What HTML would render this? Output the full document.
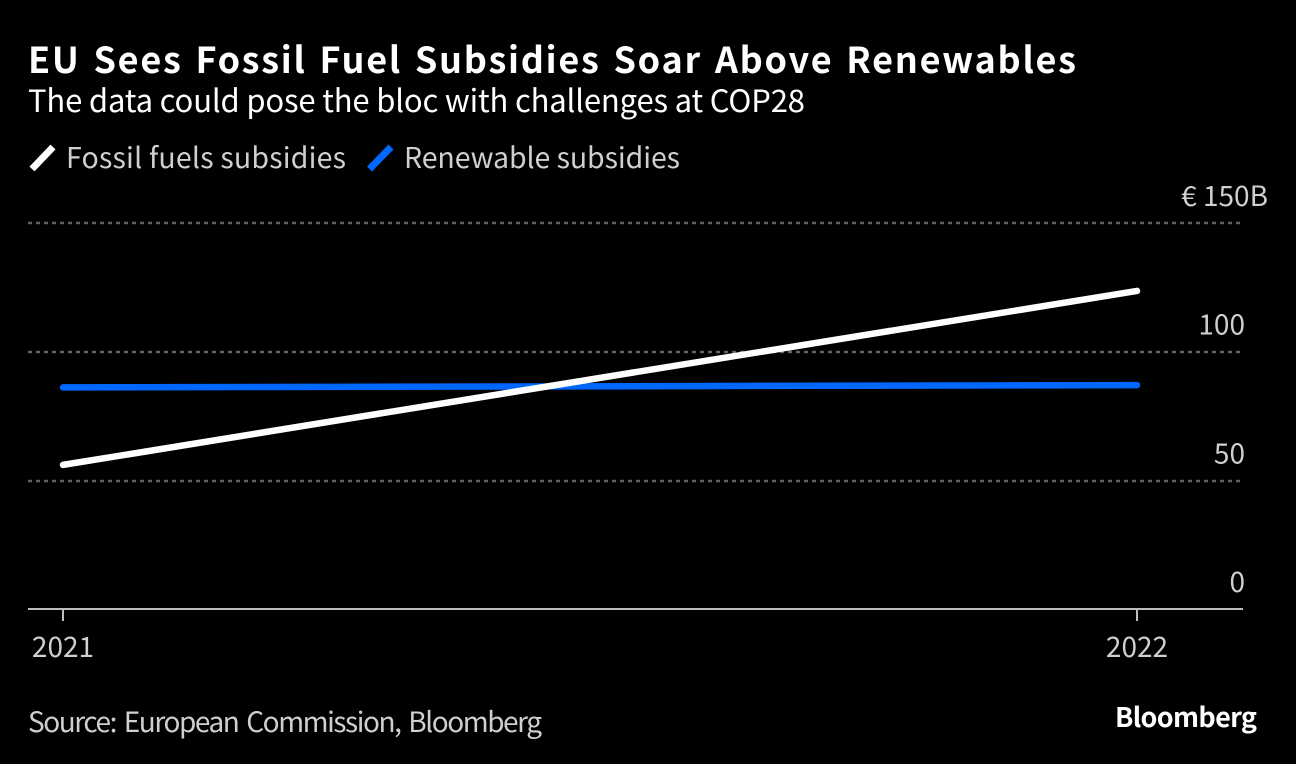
<!DOCTYPE html>
<html>
<head>
<meta charset="utf-8">
<style>
html,body{margin:0;padding:0;background:#000;width:1296px;height:764px;overflow:hidden}
svg{display:block}
text{font-family:"Noto Sans CJK JP",sans-serif}
</style>
</head>
<body>
<svg id="chart" width="1296" height="764" viewBox="0 0 1296 764" xmlns="http://www.w3.org/2000/svg">
  <rect width="1296" height="764" fill="#000"/>
  <text x="28" y="73" font-size="36" font-weight="700" fill="#fff" textLength="1048" lengthAdjust="spacing" word-spacing="3">EU Sees Fossil Fuel Subsidies Soar Above Renewables</text>
  <text x="28" y="112" font-size="31" fill="#fff" textLength="777" lengthAdjust="spacing">The data could pose the bloc with challenges at COP28</text>
  <line x1="32" y1="169" x2="53" y2="147" stroke="#fff" stroke-width="7"/>
  <text x="66" y="168" font-size="28.500" fill="#cfcfcf" textLength="280" lengthAdjust="spacing">Fossil fuels subsidies</text>
  <line x1="369.500" y1="169" x2="391" y2="147" stroke="#0068ff" stroke-width="7"/>
  <text x="404" y="168" font-size="28.500" fill="#cfcfcf" textLength="276" lengthAdjust="spacing">Renewable subsidies</text>
  <g id="grid"></g>
  <g id="xaxis"></g>
  <g id="series"></g>
  <text x="28" y="732" font-size="28" fill="#cfcfcf" textLength="514" lengthAdjust="spacing" word-spacing="3">Source: European Commission, Bloomberg</text>
  <text x="1115" y="727" font-size="27" font-weight="700" fill="#fff" textLength="142" lengthAdjust="spacing">Bloomberg</text>
</svg>
<script>
const categories = ['2021', '2022'];
const fossilValues = [56, 123.6];
const renewableValues = [86.1, 87];
const yTicks = [0, 50, 100, 150];
const yTickLabels = ['0', '50', '100', '€ 150B'];

const NS = 'http://www.w3.org/2000/svg';
const x = i => 63 + (1137 - 63) * i / (categories.length - 1);
const y = v => 609 - v * (609 - 223) / 150;

const grid = document.getElementById('grid');
const xaxis = document.getElementById('xaxis');
const series = document.getElementById('series');

yTicks.forEach((t, i) => {
  if (t !== 0) {
    const l = document.createElementNS(NS, 'line');
    
    
    l.setAttribute('x1', 28);
    l.setAttribute('x2', 1242);
    l.setAttribute('y1', Math.round(y(t) + 0.3));
    l.setAttribute('y2', Math.round(y(t) + 0.3));
    l.setAttribute('stroke', '#626262');
    l.setAttribute('stroke-width', 2.5);
    l.setAttribute('stroke-dasharray', '4 4');
    grid.appendChild(l);
  }
  const txt = document.createElementNS(NS, 'text');
  
  
  txt.setAttribute('x', t === 150 ? 1268 : 1245);
  txt.setAttribute('y', y(t) - 17);
  txt.setAttribute('text-anchor', 'end');
  txt.setAttribute('font-size', 28);
  txt.setAttribute('fill', '#cfcfcf');
  txt.textContent = yTickLabels[i];
  grid.appendChild(txt);
});

const axisLine = document.createElementNS(NS, 'line');


axisLine.setAttribute('x1', 28);
axisLine.setAttribute('x2', 1243);
axisLine.setAttribute('y1', y(0));
axisLine.setAttribute('y2', y(0));
axisLine.setAttribute('stroke', '#bdbdbd');
axisLine.setAttribute('stroke-width', 2);
xaxis.appendChild(axisLine);

categories.forEach((c, i) => {
  const tick = document.createElementNS(NS, 'line');
  
  
  tick.setAttribute('x1', x(i));
  tick.setAttribute('x2', x(i));
  tick.setAttribute('y1', y(0));
  tick.setAttribute('y2', y(0) + 12);
  tick.setAttribute('stroke', '#bdbdbd');
  tick.setAttribute('stroke-width', 2);
  xaxis.appendChild(tick);
  const txt = document.createElementNS(NS, 'text');
  
  
  txt.setAttribute('x', x(i));
  txt.setAttribute('y', 657);
  txt.setAttribute('text-anchor', 'middle');
  txt.setAttribute('font-size', 28);
  txt.setAttribute('fill', '#cfcfcf');
  txt.textContent = c;
  xaxis.appendChild(txt);
});

function pathFor(values) {
  return values.map((v, i) => (i ? 'L' : 'M') + x(i) + ' ' + y(v)).join(' ');
}

const renewableLine = document.createElementNS(NS, 'path');


renewableLine.setAttribute('d', pathFor(renewableValues));
renewableLine.setAttribute('fill', 'none');
renewableLine.setAttribute('stroke', '#0068ff');
renewableLine.setAttribute('stroke-width', 6.5);
renewableLine.setAttribute('stroke-linecap', 'round');
series.appendChild(renewableLine);

const fossilLine = document.createElementNS(NS, 'path');


fossilLine.setAttribute('d', pathFor(fossilValues));
fossilLine.setAttribute('fill', 'none');
fossilLine.setAttribute('stroke', '#fff');
fossilLine.setAttribute('stroke-width', 6.5);
fossilLine.setAttribute('stroke-linecap', 'round');
series.appendChild(fossilLine);
</script>
</body>
</html>
